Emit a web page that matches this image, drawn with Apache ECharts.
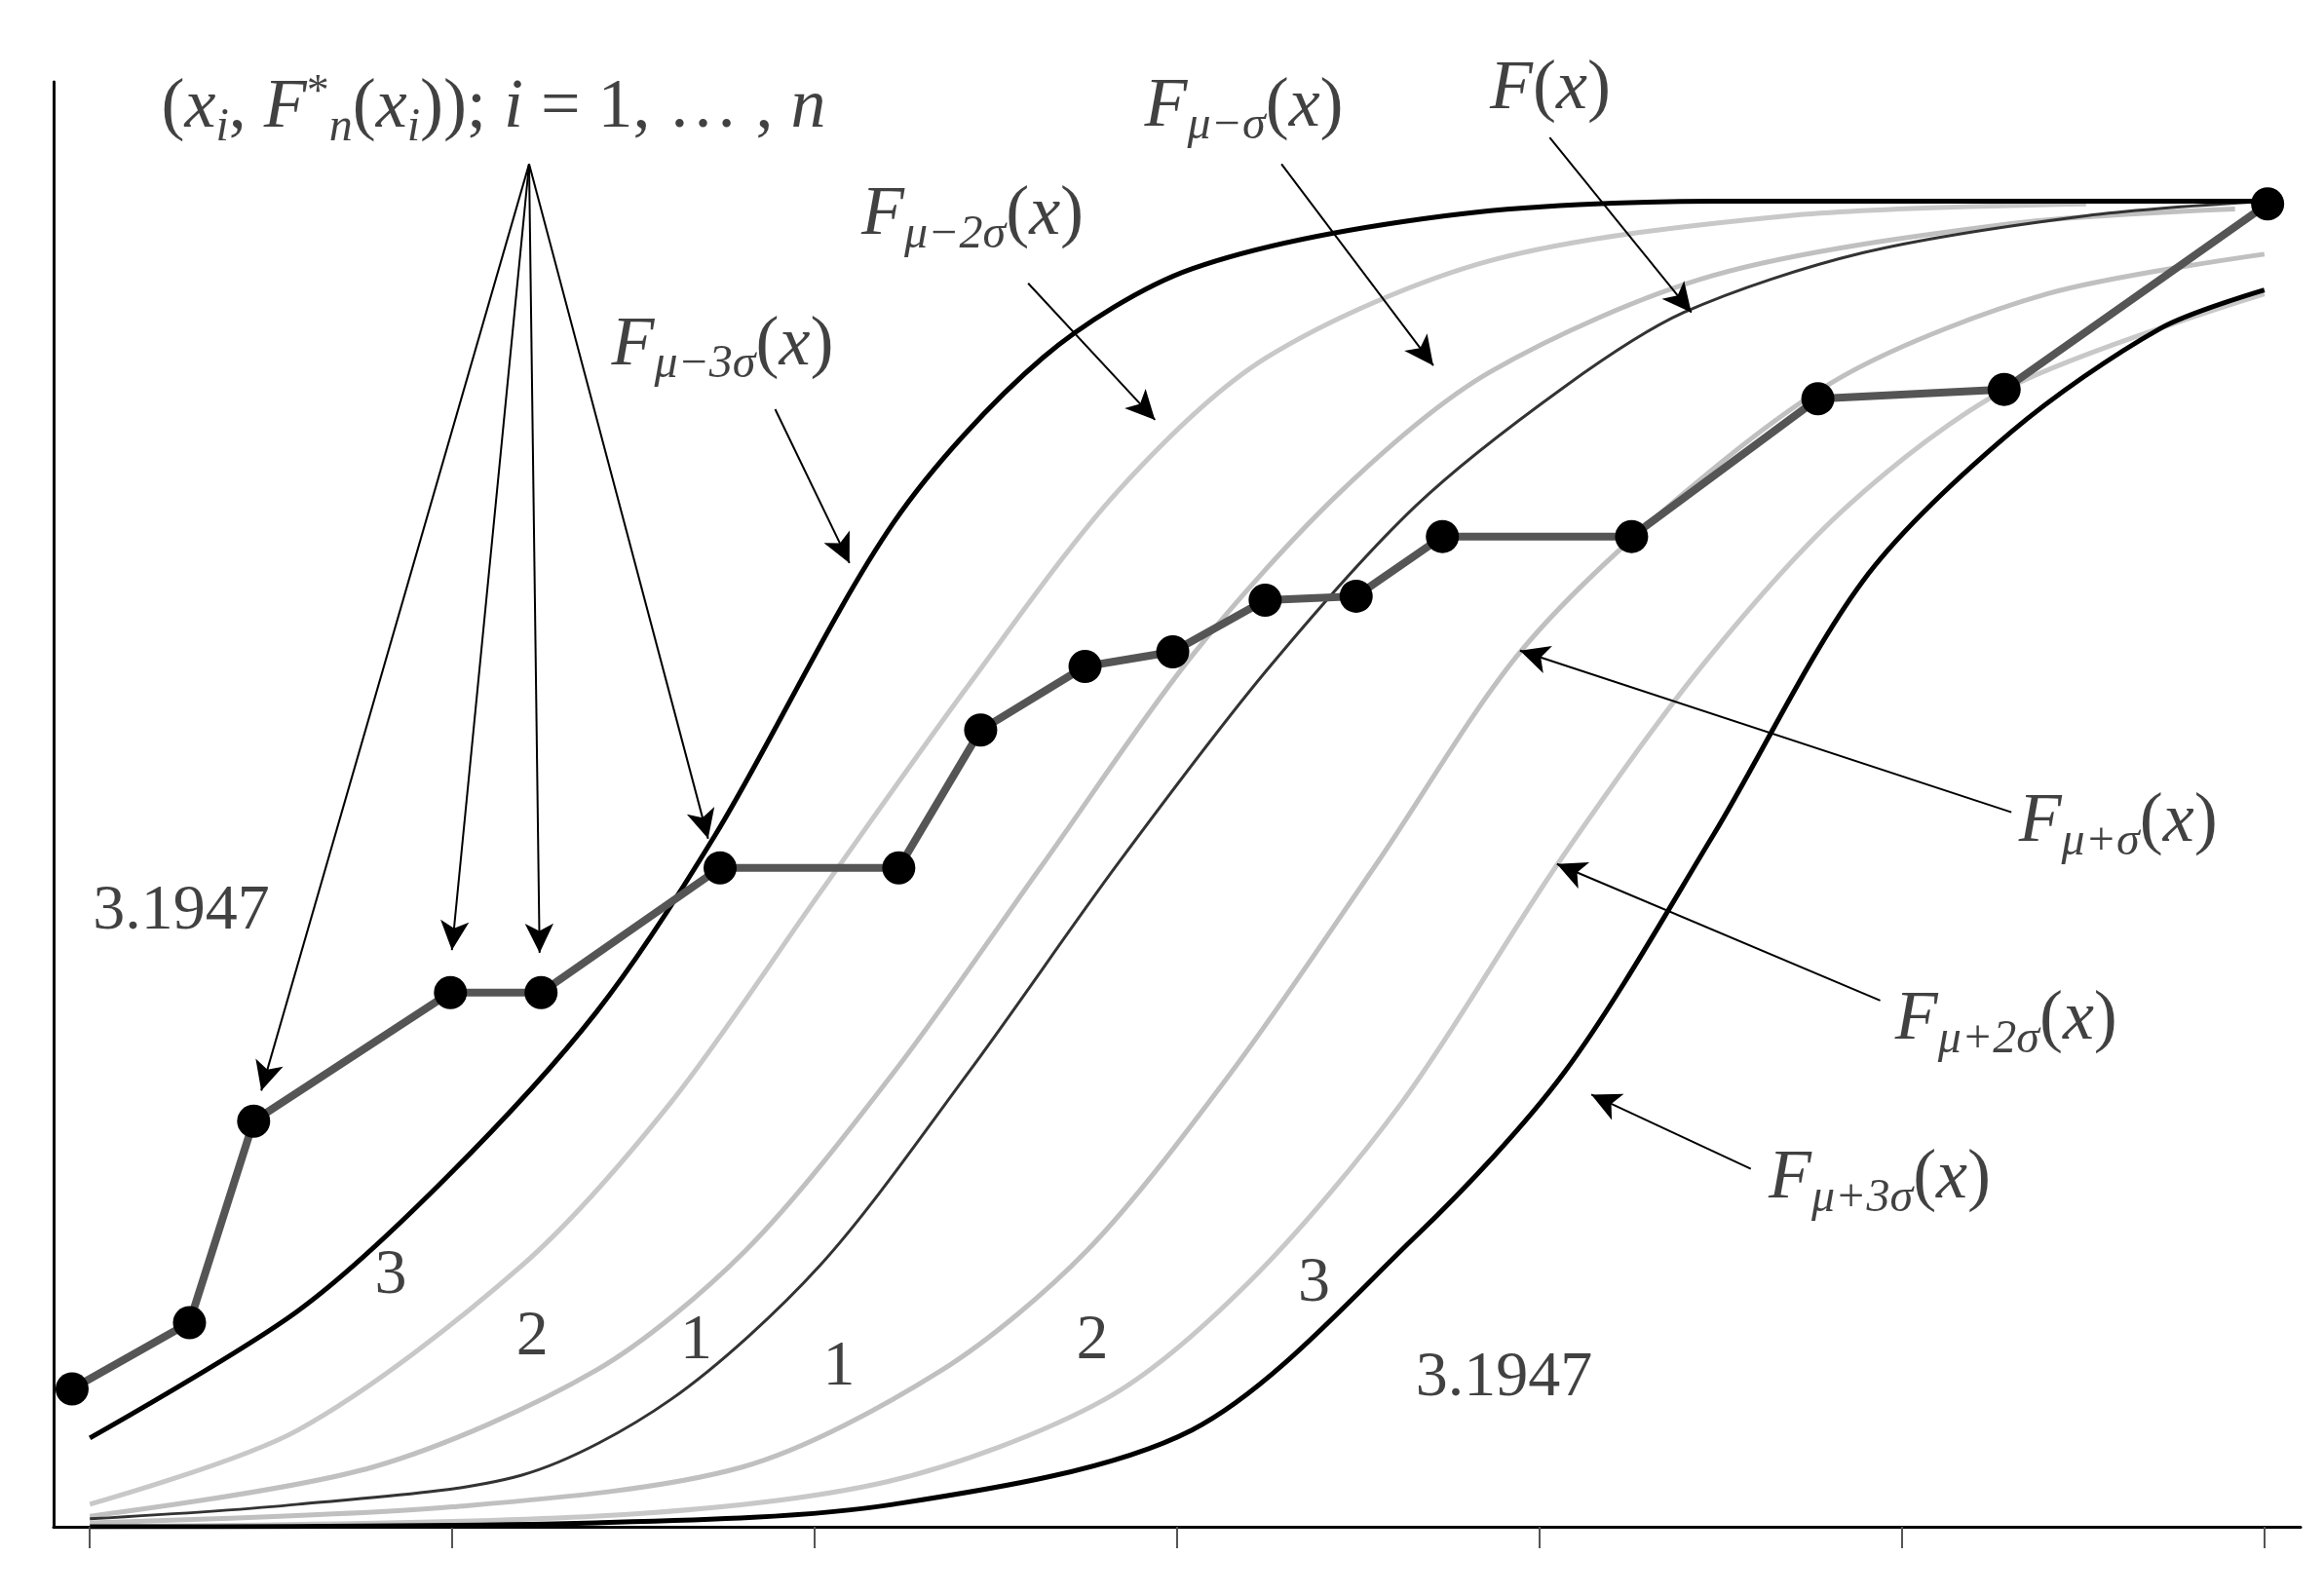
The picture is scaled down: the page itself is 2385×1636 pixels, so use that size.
<!DOCTYPE html>
<html><head><meta charset="utf-8">
<script src="https://cdn.jsdelivr.net/npm/echarts@6/dist/echarts.min.js"></script>
<style>html,body{margin:0;padding:0;background:#fff}#c{width:2385px;height:1636px}</style>
</head><body><div id="c"></div>
<script>
const empirical=[[-0.049,0.104],[0.275,0.154],[0.452,0.306],[0.995,0.403],[1.245,0.403],[1.739,0.497],[2.232,0.497],[2.458,0.601],[2.746,0.649],[2.988,0.660],[3.243,0.699],[3.494,0.702],[3.732,0.747],[4.254,0.747],[4.768,0.851],[5.282,0.858],[6.009,0.998]];
const fMinus3=[[0,0.067],[0.575,0.163],[0.986,0.264],[1.397,0.388],[1.726,0.522],[2.219,0.758],[2.630,0.882],[3.041,0.949],[3.740,0.989],[4.480,1.0],[6.0,1.0]];
const fPlus3=[[0,0],[1.397,0.003],[2.219,0.017],[3.041,0.073],[3.658,0.219],[4.069,0.343],[4.480,0.522],[4.891,0.713],[5.302,0.826],[5.713,0.904],[6.0,0.933]];
const fMain=[[0,0.006],[0.575,0.017],[1.192,0.039],[1.603,0.096],[2.014,0.197],[2.425,0.343],[2.836,0.5],[3.247,0.646],[3.658,0.770],[4.069,0.860],[4.398,0.916],[4.891,0.961],[5.508,0.989],[6.0,1.0]];
const fMinus2=[[0,0.017],[0.575,0.073],[1.192,0.197],[1.603,0.320],[2.014,0.478],[2.425,0.635],[2.836,0.781],[3.247,0.882],[3.863,0.955],[4.686,0.989],[5.508,0.998]];
const fMinus1=[[0,0.008],[0.781,0.045],[1.397,0.118],[1.808,0.208],[2.219,0.343],[2.630,0.5],[3.041,0.657],[3.452,0.781],[3.863,0.871],[4.480,0.944],[5.302,0.983],[5.919,0.994]];
const fPlus1=[[0,0.003],[1.0,0.015],[1.8,0.045],[2.35,0.118],[2.75,0.208],[3.15,0.343],[3.55,0.5],[3.95,0.661],[4.4,0.78],[4.85,0.87],[5.4,0.93],[6.0,0.96]];
const fPlus2=[[0,0],[1.4,0.008],[2.2,0.034],[2.8,0.096],[3.2,0.185],[3.62,0.32],[4.05,0.5],[4.45,0.65],[4.85,0.77],[5.3,0.86],[6.0,0.93]];
const xTicks=[0,1,2,3,4,5,6];
const arrows=[
 [[1.212,1.028],[0.473,0.329]],[[1.212,1.028],[0.999,0.435]],[[1.212,1.028],[1.241,0.433]],[[1.212,1.028],[1.706,0.519]],
 [[1.891,0.843],[2.096,0.727]],[[2.589,0.938],[2.939,0.835]],[[3.288,1.028],[3.707,0.876]],[[4.028,1.048],[4.419,0.916]],
 [[5.302,0.539],[3.946,0.661]],[[4.940,0.397],[4.048,0.5]],[[4.583,0.270],[4.143,0.326]]];
const F=s=>'{i|F}{s|'+s+'}{p|(}{i|x}{p|)}';
const labelsLeft=[
 [0.197,1.07,'{p|(}{i|x}{s|i}{p|, }{i|F}{u|*}{s|n}{p|(}{i|x}{s|i}{p|)); }{i|i}{p| = 1, … , }{i|n}'],
 [1.439,0.891,F('μ−3σ')],[2.129,0.989,F('μ−2σ')],[2.910,1.071,F('μ−σ')],[3.863,1.084,'{i|F}{p|(}{i|x}{p|)}'],
 [5.322,0.531,F('μ+σ')],[4.981,0.382,F('μ+2σ')],[4.632,0.262,F('μ+3σ')],
 [0.008,0.464,'{n|3.1947}'],[3.658,0.112,'{n|3.1947}']];
const labelsCenter=[[0.830,0.189,'3'],[1.221,0.143,'2'],[1.673,0.140,'1'],[2.067,0.120,'1'],[2.766,0.140,'2'],[3.378,0.183,'3']];
const serif='Liberation Serif';
const rich={i:{fontFamily:serif,fontStyle:'italic',fontSize:72,color:'#111'},p:{fontFamily:serif,fontSize:72,color:'#111'},
 s:{fontFamily:serif,fontStyle:'italic',fontSize:48,color:'#111',verticalAlign:'bottom',padding:[40,0,0,0]},
 u:{fontFamily:serif,fontSize:46,color:'#111',padding:[0,0,30,0]},n:{fontFamily:serif,fontSize:66,color:'#111'}};
const curve=(d,c,w)=>({type:'line',data:d,smooth:0.3,symbol:'none',lineStyle:{color:c,width:w},z:2});
const chart=echarts.init(document.getElementById('c'));
chart.setOption({animation:false,
 grid:{left:55,right:24,top:84,bottom:69},
 xAxis:{type:'value',min:-0.1,max:6.1,axisLine:{onZero:false,lineStyle:{color:'#000',width:3}},axisTick:{show:true,customValues:xTicks,length:22,lineStyle:{color:'#555',width:2}},axisLabel:{show:false},splitLine:{show:false}},
 yAxis:{type:'value',min:0,max:1.09,axisLine:{show:true,onZero:false,lineStyle:{color:'#000',width:3}},axisTick:{show:false},axisLabel:{show:false},splitLine:{show:false}},
 series:[
  curve(fMinus2,'#c8c8c8',5),curve(fMinus1,'#c0c0c0',5),curve(fPlus1,'#c0c0c0',5),curve(fPlus2,'#c8c8c8',5),
  curve(fMain,'#333',3),curve(fMinus3,'#000',5),curve(fPlus3,'#000',5),
  {type:'line',data:empirical,symbol:'circle',symbolSize:34,itemStyle:{color:'#000'},lineStyle:{color:'#555',width:8},z:4},
  {type:'scatter',data:[],z:5,markLine:{silent:true,symbol:['none','arrow'],symbolSize:[22,30],label:{show:false},lineStyle:{color:'#000',width:2,type:'solid'},
    data:arrows.map(a=>[{coord:a[0]},{coord:a[1]}])}},
  {type:'scatter',data:labelsLeft.map(l=>[l[0],l[1],l[2]]),symbolSize:0,z:6,label:{show:true,position:'right',distance:0,formatter:p=>p.data[2],rich:rich}},
  {type:'scatter',data:labelsCenter.map(l=>[l[0],l[1],l[2]]),symbolSize:0,z:6,label:{show:true,position:'inside',formatter:p=>p.data[2],fontFamily:serif,fontSize:66,color:'#111'}}
 ]});
</script></body></html>
